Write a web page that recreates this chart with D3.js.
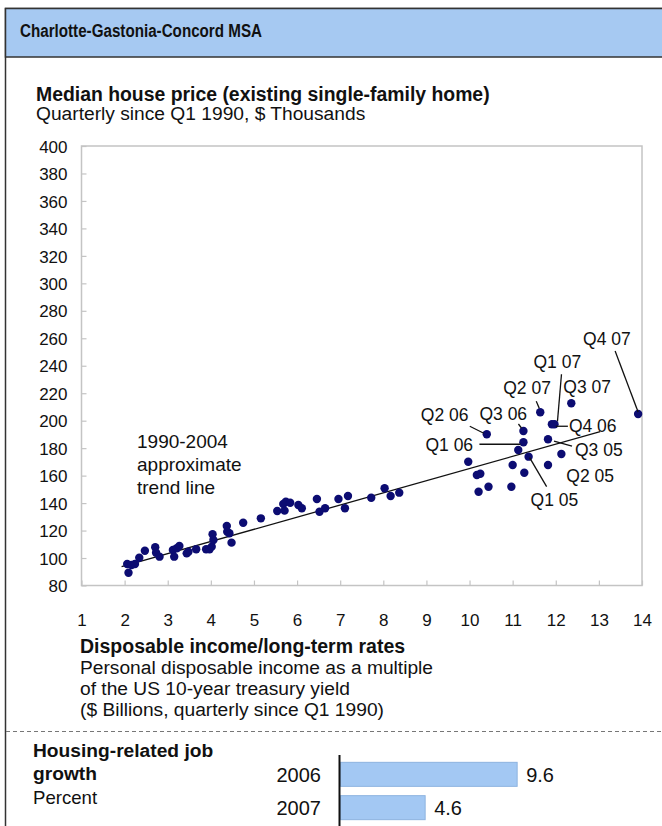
<!DOCTYPE html>
<html>
<head>
<meta charset="utf-8">
<script src="https://cdn.jsdelivr.net/npm/d3@7"></script>
<style>
  body { margin: 0; background: #fff; }
  text { font-family: "Liberation Sans", Arial, sans-serif; fill: #111; }
</style>
</head>
<body>
<script>
// scatter: income multiple (x) vs median house price, $ thousands (y)
const incomeMultiple = [
  2.09, 2.06, 2.16, 2.24, 2.34, 2.47, 2.71, 2.73, 2.81, 3.12, 3.15, 3.21, 3.27, 3.44, 3.48,
  3.66, 3.89, 3.97, 4.02, 4.04, 4.06, 4.37, 4.38, 4.43, 4.48, 4.75, 5.16, 5.54, 5.68, 5.71,
  5.74, 5.84, 6.03, 6.11, 6.46, 6.52, 6.65, 6.96, 7.11, 7.18, 7.72, 8.03, 8.17, 8.37,
  9.97, 10.17, 10.25, 10.21, 10.44, 10.97, 11.00, 11.13, 11.27, 11.82,
  11.37, 12.13, 11.82, 11.25, 10.40, 11.25, 11.91, 11.97, 11.64, 12.36, 13.91
];
const housePrice = [
  89.3, 95.7, 94.9, 95.7, 100.2, 105.3, 107.8, 103.9, 101.0, 105.8, 101.0, 107.1, 108.8, 103.4, 104.6,
  106.4, 106.4, 106.4, 108.3, 117.3, 113.1, 123.3, 119.2, 118.0, 111.2, 125.7, 128.9, 134.2, 139.3, 134.5,
  141.0, 140.3, 138.6, 136.2, 143.0, 133.7, 136.2, 143.0, 136.2, 145.2, 143.9, 150.8, 145.2, 147.6,
  170.1, 160.5, 161.4, 148.3, 151.9, 151.9, 167.7, 178.7, 162.1, 167.7,
  173.8, 175.7, 186.5, 184.3, 190.1, 192.5, 197.4, 197.4, 206.1, 212.7, 204.9
];
const quarterLabel = [
  "", "", "", "", "", "", "", "", "", "", "", "", "", "", "",
  "", "", "", "", "", "", "", "", "", "", "", "", "", "", "",
  "", "", "", "", "", "", "", "", "", "", "", "", "", "",
  "", "", "", "", "", "", "", "", "", "",
  "Q1 05", "Q2 05", "Q3 05", "Q1 06", "Q2 06", "Q3 06", "Q4 06", "Q1 07", "Q2 07", "Q3 07", "Q4 07"
];
// 1990-2004 approximate trend line end points
const trendX = [1.93, 13.03];
const trendY = [93.7, 192.0];

const xTicks = d3.range(1, 15);
const yTicks = d3.range(80, 401, 20);

// job growth bars
const jobYears = ["2006", "2007"];
const jobGrowth = [9.6, 4.6];

// callout placement (pixels from the point): text offset, leader start/end
const callouts = {
  "Q4 07": {tx: -55, ty: -69, l: [-23, -63, 0, -2]},
  "Q1 07": {tx: -21, ty: -56, l: [7, -50, 3, -3]},
  "Q2 07": {tx: -37, ty: -18, l: [-4, -11, -1, -4]},
  "Q3 07": {tx: -8, ty: -10},
  "Q2 06": {tx: -66, ty: -13, l: [-17, -8, -3, -1]},
  "Q3 06": {tx: -44, ty: -11, l: [-5, -7, -2, -3]},
  "Q4 06": {tx: 17, ty: 8, l: [4, 2, 16, 2]},
  "Q1 06": {tx: -98, ty: 9, l: [-44, 2, -3, 2]},
  "Q3 05": {tx: 27, ty: 17, l: [6, 2, 24, 7]},
  "Q2 05": {tx: 5, ty: 28},
  "Q1 05": {tx: 2, ty: 49, l: [1, 1, 18, 30]}
};

const W = 662, H = 826;
const svg = d3.select("body").append("svg")
    .attr("width", W)
    .attr("height", H);

// panel frame + header band
svg.append("rect")
    .attr("x", 5.5).attr("y", 8.5)
    .attr("width", 700).attr("height", 900)
    .attr("fill", "#fff")
    .attr("stroke", "#333").attr("stroke-width", 1.5);
svg.append("rect")
    .attr("x", 5.5).attr("y", 8.5)
    .attr("width", 700).attr("height", 48.5)
    .attr("fill", "#a6c9f2")
    .attr("stroke", "#333").attr("stroke-width", 1.5);
svg.append("text")
    .attr("x", 20).attr("y", 37)
    .attr("font-size", 17.5).attr("font-weight", "bold")
    .attr("textLength", 242).attr("lengthAdjust", "spacingAndGlyphs")
    .text("Charlotte-Gastonia-Concord MSA");

svg.append("text")
    .attr("x", 36).attr("y", 101)
    .attr("font-size", 19.4).attr("font-weight", "bold")
    .text("Median house price (existing single-family home)");
svg.append("text")
    .attr("x", 36).attr("y", 120)
    .attr("font-size", 19.2)
    .text("Quarterly since Q1 1990, $ Thousands");

// scatter plot
const x = d3.scaleLinear().domain([1, 14]).range([81.5, 642]);
const y = d3.scaleLinear().domain([80, 400]).range([585.5, 146]);

const plot = svg.append("g");
plot.append("rect")
    .attr("x", x(1)).attr("y", y(400))
    .attr("width", x(14) - x(1)).attr("height", y(80) - y(400))
    .attr("fill", "none").attr("stroke", "#c4c4c4").attr("stroke-width", 1.5);

const yAxis = plot.append("g")
    .attr("transform", `translate(${x(1)},0)`)
    .call(d3.axisLeft(y).tickValues(yTicks).tickSize(-5).tickPadding(14));
const xAxis = plot.append("g")
    .attr("transform", `translate(0,${y(80)})`)
    .call(d3.axisBottom(x).tickValues(xTicks).tickSize(-5).tickPadding(28));
[yAxis, xAxis].forEach(a => {
  a.select(".domain").remove();
  a.selectAll(".tick line").attr("stroke", "#c4c4c4").attr("stroke-width", 1.2);
  a.selectAll(".tick text")
      .attr("font-family", "Liberation Sans, Arial, sans-serif")
      .attr("font-size", 17).attr("fill", "#111");
});
yAxis.selectAll(".tick text").attr("dy", "0.36em");

plot.append("line")
    .attr("x1", x(trendX[0])).attr("y1", y(trendY[0]))
    .attr("x2", x(trendX[1])).attr("y2", y(trendY[1]))
    .attr("stroke", "#111").attr("stroke-width", 1.3);

const pts = incomeMultiple.map((v, i) => ({x: v, y: housePrice[i], q: quarterLabel[i]}));

plot.append("g")
  .selectAll("circle")
  .data(pts)
  .join("circle")
    .attr("cx", d => x(d.x))
    .attr("cy", d => y(d.y))
    .attr("r", 4.2)
    .attr("fill", "#0c0c72");

const notes = plot.append("g");
pts.filter(d => d.q).forEach(d => {
  const c = callouts[d.q], px = x(d.x), py = y(d.y);
  if (c.l) {
    notes.append("line")
        .attr("x1", px + c.l[0]).attr("y1", py + c.l[1])
        .attr("x2", px + c.l[2]).attr("y2", py + c.l[3])
        .attr("stroke", "#111").attr("stroke-width", 1.3);
  }
  notes.append("text")
      .attr("x", px + c.tx).attr("y", py + c.ty)
      .attr("font-size", 17.5)
      .text(d.q);
});

const trendNote = plot.append("text").attr("font-size", 19);
["1990-2004", "approximate", "trend line"].forEach((t, i) => {
  trendNote.append("tspan").attr("x", 137).attr("y", 448 + i * 23).text(t);
});

// x axis title block
const xt = svg.append("g");
xt.append("text").attr("x", 80).attr("y", 653)
    .attr("font-size", 19.5).attr("font-weight", "bold")
    .text("Disposable income/long-term rates");
["Personal disposable income as a multiple",
 "of the US 10-year treasury yield",
 "($ Billions, quarterly since Q1 1990)"].forEach((t, i) => {
  xt.append("text").attr("x", 80).attr("y", 674 + i * 21)
      .attr("font-size", 19.2).text(t);
});

svg.append("line")
    .attr("x1", 6).attr("x2", W)
    .attr("y1", 731.5).attr("y2", 731.5)
    .attr("stroke", "#777").attr("stroke-width", 1.2)
    .attr("stroke-dasharray", "4,3");

// job growth bars
svg.append("text").attr("x", 33).attr("y", 757)
    .attr("font-size", 19.2).attr("font-weight", "bold").text("Housing-related job");
svg.append("text").attr("x", 33).attr("y", 780)
    .attr("font-size", 19.2).attr("font-weight", "bold").text("growth");
svg.append("text").attr("x", 33).attr("y", 804)
    .attr("font-size", 18.6).text("Percent");

const bx = d3.scaleLinear().domain([0, 10]).range([340.5, 524.5]);
const by = d3.scaleBand().domain(jobYears).range([759, 823]).paddingInner(0.28).paddingOuter(0.1);

svg.append("g")
  .selectAll("rect")
  .data(jobYears)
  .join("rect")
    .attr("x", bx(0))
    .attr("y", d => by(d))
    .attr("width", (d, i) => bx(jobGrowth[i]) - bx(0))
    .attr("height", by.bandwidth())
    .attr("fill", "#a3c8f3")
    .attr("stroke", "#8db3df").attr("stroke-width", 1);

svg.append("g")
  .selectAll("text")
  .data(jobYears)
  .join("text")
    .attr("x", 321)
    .attr("y", d => by(d) + by.bandwidth() / 2)
    .attr("dy", "0.36em")
    .attr("text-anchor", "end")
    .attr("font-size", 20)
    .text(d => d);

svg.append("g")
  .selectAll("text")
  .data(jobYears)
  .join("text")
    .attr("x", (d, i) => bx(jobGrowth[i]) + 9)
    .attr("y", d => by(d) + by.bandwidth() / 2)
    .attr("dy", "0.36em")
    .attr("font-size", 20)
    .text((d, i) => jobGrowth[i]);

svg.append("line")
    .attr("x1", bx(0) - 1).attr("x2", bx(0) - 1)
    .attr("y1", 755).attr("y2", H)
    .attr("stroke", "#111").attr("stroke-width", 2);
</script>
</body>
</html>
